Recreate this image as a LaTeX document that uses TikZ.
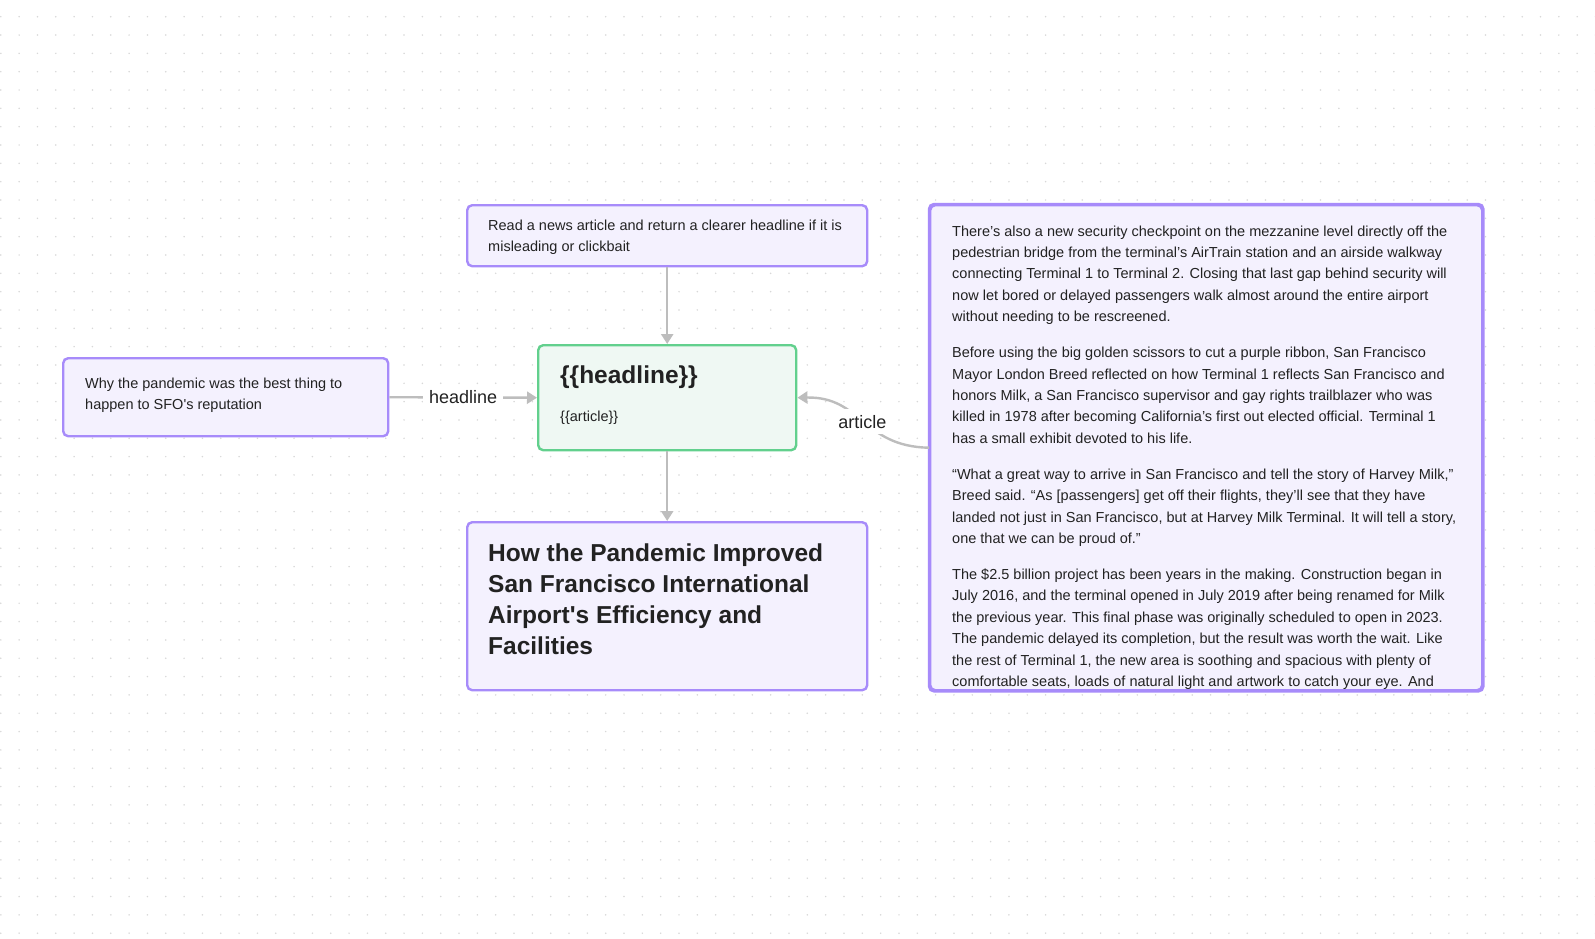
\documentclass[tikz,border=0pt]{standalone}
\usepackage{fontspec}
\setmainfont{Liberation Sans}[Ligatures=TeXOff]
\usetikzlibrary{arrows.meta}
\definecolor{bpurple}{HTML}{A78BFA}
\definecolor{bfill}{HTML}{F4F1FE}
\definecolor{bgreen}{HTML}{62D08D}
\definecolor{gfill}{HTML}{EFF8F3}
\definecolor{arrowc}{HTML}{BDBDBD}
\definecolor{txt}{HTML}{222222}
\definecolor{dotc}{HTML}{D8D8D8}
\begin{document}
\begin{tikzpicture}[x=1pt,y=-1pt,
  pbox/.style={draw=bpurple, fill=bfill, line width=2.4pt, rounded corners=5pt, inner sep=0pt, anchor=north west},
  gbox/.style={pbox, draw=bgreen, fill=gfill},
  conn/.style={draw=arrowc, line width=2.4pt, -{Triangle[width=12pt,length=10pt]}},
  body/.style={inner sep=0pt, anchor=base west, text=txt, font=\fontsize{14.5}{21.5}\selectfont},
  title/.style={inner sep=0pt, anchor=base west, text=txt, font=\fontsize{24.5}{31.3}\selectfont\bfseries},
  lbl/.style={fill=white, inner sep=6pt, text=txt, font=\fontsize{18}{22}\selectfont}
]
\useasboundingbox (0,0) rectangle (1595,939);
\fill[white] (0,0) rectangle (1595,939);
\foreach \i in {0,...,87} {
  \foreach \j in {0,...,50} {
    \fill[dotc] (\i*18.33+0.8, 16.7+\j*18.33) circle (0.85pt);
  }
}
% boxes
\node[pbox, minimum width=325pt, minimum height=78pt] (why) at (62,357) {};
\node[pbox, minimum width=400pt, minimum height=61pt] (sys) at (466,204) {};
\node[gbox, minimum width=258pt, minimum height=105pt] (tmpl) at (537,344) {};
\node[pbox, minimum width=400pt, minimum height=168pt] (out) at (466,521) {};
\node[pbox, minimum width=552pt, minimum height=485pt] (art) at (929,204) {};
% texts
\node[body] (whyt) at (85,388) {\parbox[t]{300pt}{\raggedright Why the pandemic was the best thing to\\happen to SFO's reputation}};
\node[body] (syst) at (488,230) {\parbox[t]{370pt}{\raggedright Read a news article and return a clearer headline if it is\\misleading or clickbait}};
\node[title] (tmplh) at (560,383) {\{\{headline\}\}};
\node[body] (tmpla) at (560,421) {\{\{article\}\}};
\node[title] (outt) at (488,561) {\parbox[t]{370pt}{\raggedright How the Pandemic Improved\\San Francisco International\\Airport's Efficiency and\\Facilities}};
\begin{scope}
\clip (929,204) rectangle (1481,688);
\node[body, font=\fontsize{14.5}{21.4}\selectfont] (artt) at (952,236) {\parbox[t]{520pt}{\raggedright
There’s also a new security checkpoint on the mezzanine level directly off the\\
pedestrian bridge from the terminal’s AirTrain station and an airside walkway\\
connecting Terminal 1 to Terminal 2. Closing that last gap behind security will\\
now let bored or delayed passengers walk almost around the entire airport\\
without needing to be rescreened.\\[14.6pt]
Before using the big golden scissors to cut a purple ribbon, San Francisco\\
Mayor London Breed reflected on how Terminal 1 reflects San Francisco and\\
honors Milk, a San Francisco supervisor and gay rights trailblazer who was\\
killed in 1978 after becoming California’s first out elected official. Terminal 1\\
has a small exhibit devoted to his life.\\[14.6pt]
“What a great way to arrive in San Francisco and tell the story of Harvey Milk,”\\
Breed said. “As [passengers] get off their flights, they’ll see that they have\\
landed not just in San Francisco, but at Harvey Milk Terminal. It will tell a story,\\
one that we can be proud of.”\\[14.6pt]
The \$2.5 billion project has been years in the making. Construction began in\\
July 2016, and the terminal opened in July 2019 after being renamed for Milk\\
the previous year. This final phase was originally scheduled to open in 2023.\\
The pandemic delayed its completion, but the result was worth the wait. Like\\
the rest of Terminal 1, the new area is soothing and spacious with plenty of\\
comfortable seats, loads of natural light and artwork to catch your eye. And\\
more}};
\end{scope}
\draw[bpurple, line width=2.4pt, rounded corners=5pt] (art.north west) rectangle (art.south east);
% connectors
\draw[conn] (sys.south) -- (tmpl.north);
\draw[conn] (tmpl.south) -- (out.north);
\draw[conn] (why.east) -- node[lbl] (hl) {headline} (tmpl.west);
\draw[conn] (art.west) .. controls (862,446.5) and (862,396.5) .. node[lbl] (al) {article} (tmpl.east);
\end{tikzpicture}
\end{document}
